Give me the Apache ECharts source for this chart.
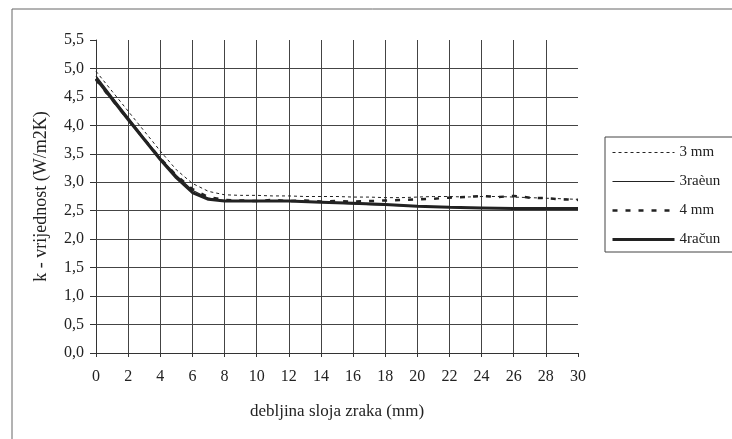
<!DOCTYPE html>
<html>
<head>
<meta charset="utf-8">
<script src="https://cdn.jsdelivr.net/npm/echarts@6/dist/echarts.min.js"></script>
<style>
  html, body { margin: 0; padding: 0; background: #fff; }
  #chart { width: 732px; height: 439px; }
</style>
</head>
<body>
<div id="chart"></div>
<script>
// debljina sloja zraka (mm)
const xMjereno = [0,1,2,3,4,5,6,7,8,9,10,11,12,13,14,15,16,17,18,19,20,21,22,23,24,25,26,27,28,29,30];
const xRacun = [0,1,2,3,4,5,6,7,8,10,12,14,16,18,20,22,24,26,28,30];

// k - vrijednost (W/m2K)
const mm3 = [4.95,4.60,4.25,3.90,3.55,3.22,2.98,2.84,2.78,2.77,2.77,2.76,2.76,2.75,2.75,2.75,2.74,2.74,2.73,2.73,2.74,2.75,2.75,2.74,2.75,2.75,2.74,2.73,2.72,2.71,2.70];
const racun3 = [4.87,4.50,4.14,3.78,3.43,3.12,2.86,2.72,2.68,2.68,2.67,2.65,2.62,2.60,2.58,2.56,2.55,2.55,2.55,2.54];
const mm4 = [4.80,4.45,4.10,3.76,3.42,3.12,2.88,2.74,2.69,2.68,2.67,2.69,2.67,2.68,2.66,2.67,2.66,2.67,2.68,2.69,2.70,2.71,2.73,2.74,2.76,2.74,2.76,2.73,2.72,2.70,2.69];
const racun4 = [4.82,4.46,4.10,3.75,3.40,3.08,2.82,2.70,2.67,2.67,2.67,2.65,2.63,2.61,2.58,2.56,2.55,2.54,2.54,2.54];

const nazivi = ['3 mm', '3raèun', '4 mm', '4račun'];

// linije mreže (bez linije na 30 i na 5,5)
const mrezaX = [2,4,6,8,10,12,14,16,18,20,22,24,26,28];
const mrezaY = [0.5,1.0,1.5,2.0,2.5,3.0,3.5,4.0,4.5,5.0];

const font = 'Liberation Serif';

// stilovi linija
const stilovi = [
    { color: '#222', width: 1, type: [3, 3] },
    { color: '#222', width: 1.2, type: 'solid' },
    { color: '#222', width: 2.5, type: [5, 8] },
    { color: '#222', width: 3, type: 'solid' }
];

function parovi(xs, ys) {
    return xs.map((x, i) => [x, ys[i]]);
}

const chart = echarts.init(document.getElementById('chart'));

const mrezaLinije = [];
mrezaX.forEach(v => mrezaLinije.push({ xAxis: v }));
mrezaY.forEach(v => mrezaLinije.push({ yAxis: v }));

const option = {
    animation: false,
    backgroundColor: '#fff',
    textStyle: { fontFamily: font },
    graphic: [
        {
            type: 'rect',
            shape: { x: 12, y: 9, width: 760, height: 480 },
            style: { fill: 'none', stroke: '#666', lineWidth: 1 },
            silent: true
        },
        {
            type: 'rect',
            shape: { x: 605, y: 137, width: 200, height: 115 },
            style: { fill: 'none', stroke: '#444', lineWidth: 1 },
            silent: true
        }
    ],
    grid: {
        left: 96,
        right: 154,
        top: 40,
        bottom: 86
    },
    legend: {
        data: nazivi.map((n, i) => ({ name: n, lineStyle: stilovi[i] })),
        orient: 'vertical',
        left: 605,
        top: 137,
        itemWidth: 62,
        itemHeight: 14,
        itemGap: 14,
        padding: [8, 6, 8, 6],
        itemStyle: { opacity: 0 },
        textStyle: { fontFamily: font, fontSize: 15, color: '#222' }
    },
    xAxis: {
        type: 'value',
        min: 0,
        max: 30,
        interval: 2,
        axisLine: { show: true, lineStyle: { color: '#333', width: 1 } },
        axisTick: { show: true, length: 4, lineStyle: { color: '#333' } },
        axisLabel: { fontFamily: font, fontSize: 16, color: '#222', margin: 16 },
        splitLine: { show: false },
        name: 'debljina sloja zraka (mm)',
        nameLocation: 'middle',
        nameGap: 50,
        nameTextStyle: { fontFamily: font, fontSize: 17, color: '#222' }
    },
    yAxis: {
        type: 'value',
        min: 0,
        max: 5.5,
        interval: 0.5,
        axisLine: { show: true, lineStyle: { color: '#333', width: 1 } },
        axisTick: { show: true, length: 6, lineStyle: { color: '#333' } },
        axisLabel: {
            fontFamily: font, fontSize: 16, color: '#222', margin: 12,
            formatter: v => v.toFixed(1).replace('.', ',')
        },
        splitLine: { show: false },
        name: 'k - vrijednost (W/m2K)',
        nameLocation: 'middle',
        nameGap: 46,
        nameTextStyle: { fontFamily: font, fontSize: 18, color: '#222' }
    },
    series: [
        {
            name: nazivi[0],
            type: 'line',
            data: parovi(xMjereno, mm3),
            symbol: 'none',
            lineStyle: stilovi[0],
            itemStyle: { color: '#222' },
            z: 3,
            markLine: {
                silent: true,
                symbol: 'none',
                label: { show: false },
                lineStyle: { color: '#444', width: 1, type: 'solid' },
                data: mrezaLinije,
                z: 1
            }
        },
        {
            name: nazivi[1],
            type: 'line',
            data: parovi(xRacun, racun3),
            symbol: 'none',
            lineStyle: stilovi[1],
            itemStyle: { color: '#222' },
            z: 3
        },
        {
            name: nazivi[2],
            type: 'line',
            data: parovi(xMjereno, mm4),
            symbol: 'none',
            lineStyle: stilovi[2],
            itemStyle: { color: '#222' },
            z: 3
        },
        {
            name: nazivi[3],
            type: 'line',
            data: parovi(xRacun, racun4),
            symbol: 'none',
            lineStyle: stilovi[3],
            itemStyle: { color: '#222' },
            z: 4
        }
    ]
};

chart.setOption(option);
</script>
</body>
</html>
